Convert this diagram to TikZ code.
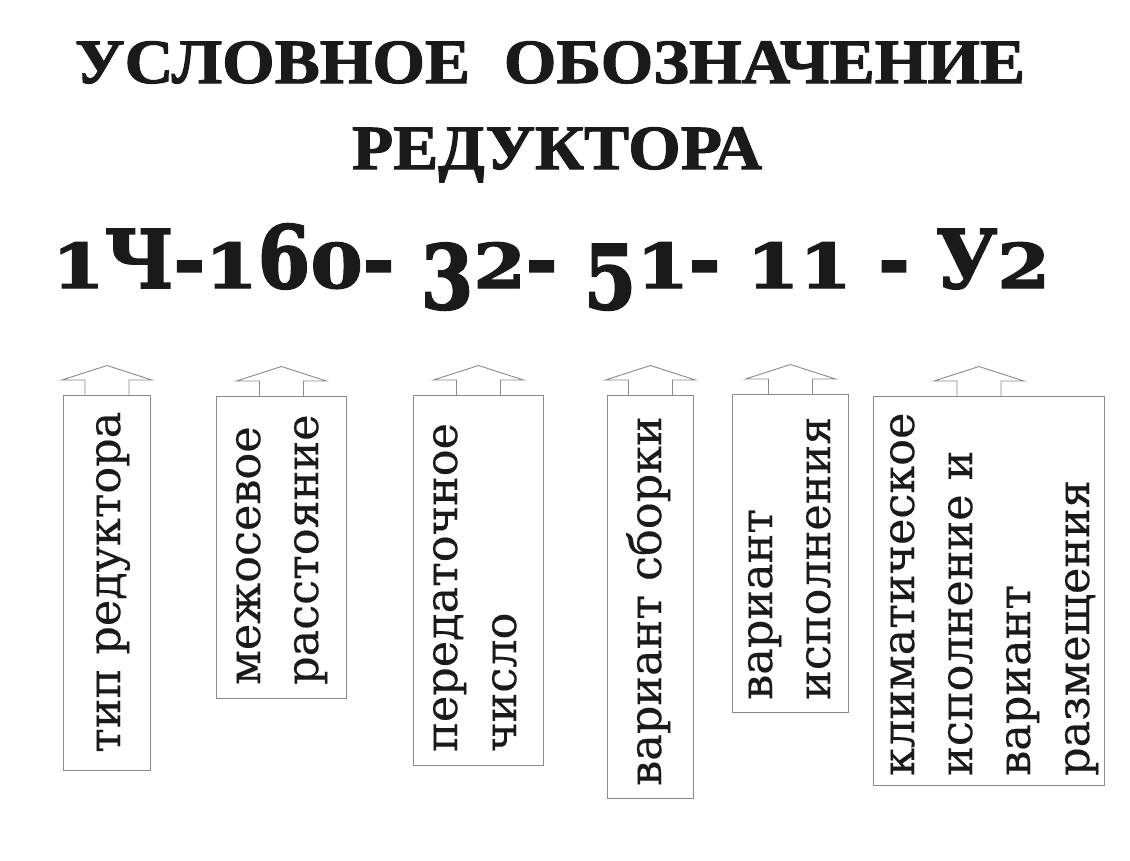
\documentclass[tikz,border=0pt]{standalone}
\usepackage{fontspec}
\usepackage{graphicx}
\usetikzlibrary{calc}
\setmainfont{Liberation Serif}
\newfontfamily\titlefont[BoldFeatures={FakeBold=1.6}]{Liberation Serif}
\newfontfamily\codefont[BoldFeatures={FakeBold=2.2}]{DejaVu Serif}
\newfontfamily\lblfont[FakeStretch=0.99,FakeBold=0.3]{DejaVu Serif}
\definecolor{boxgray}{HTML}{8A8A8A}
\definecolor{ink}{HTML}{1A1A1A}
\newcommand\osS[1]{\scalebox{1}[0.76]{#1}}
\newcommand\osD[1]{\raisebox{-21pt}{\scalebox{1}[1.1]{#1}}}
\newcommand\osT[1]{\scalebox{1}[1.07]{#1}}
\newcommand\blockarrow[2]{\draw[arr] ($(#1.north)+(#2-22,0)$) -- ++(0,-15) -- ++(-23,0) -- ++(45,-14.5) -- ++(45,14.5) -- ++(-23,0) -- ++(0,15);}
\tikzset{
  box/.style={draw=boxgray, line width=0.9pt, inner sep=0pt, anchor=north west},
  arr/.style={draw=boxgray, line width=0.9pt, line join=miter},
  lbl/.style={rotate=90, anchor=base west, inner sep=0pt, text=ink, font=\lblfont\fontsize{45}{58}\selectfont},
  ttl/.style={anchor=base, inner sep=0pt, text=ink},
}
\begin{document}
\begin{tikzpicture}[x=1pt,y=-1pt]
\useasboundingbox (0,0) rectangle (1130,860);
\fill[white] (0,0) rectangle (1130,860);

\node[ttl] (t1) at (550,83) {\resizebox{950pt}{\height}{\titlefont\bfseries\fontsize{63}{63}\selectfont УСЛОВНОЕ\ \ ОБОЗНАЧЕНИЕ}};
\node[ttl] (t2) at (557,169) {\resizebox{410pt}{\height}{\titlefont\bfseries\fontsize{63}{63}\selectfont РЕДУКТОРА}};
\node[ttl] (code) at (551,288) {\resizebox{998pt}{\height}{\codefont\bfseries\fontsize{81}{81}\selectfont \osS{1}Ч-\osS{1}\osT{6}\osS{0}- \osD{3}\osS{2}- \osD{5}\osS{1}- \osS{1}\osS{1} - У\osS{2}}};

\node[box, minimum width=87pt, minimum height=375pt] (b1) at (63,395) {};
\node[box, minimum width=130pt, minimum height=302pt] (b2) at (216,396) {};
\node[box, minimum width=130pt, minimum height=370pt] (b3) at (413,395) {};
\node[box, minimum width=86pt, minimum height=403pt] (b4) at (607,395) {};
\node[box, minimum width=116pt, minimum height=318pt] (b5) at (732,394) {};
\node[box, minimum width=231pt, minimum height=389pt] (b6) at (873,396) {};

\blockarrow{b1}{0}
\blockarrow{b2}{0}
\blockarrow{b3}{0}
\blockarrow{b4}{0}
\blockarrow{b5}{0}
\blockarrow{b6}{-10}

\node[lbl] (l1) at (120,753) {тип редуктора};
\node[lbl] (l2a) at (260,685) {межосевое};
\node[lbl] (l2b) at (318,685) {расстояние};
\node[lbl] (l3a) at (457,752) {передаточное};
\node[lbl] (l3b) at (516,752) {число};
\node[lbl] (l4) at (661,786) {вариант сборки};
\node[lbl] (l5a) at (772,700) {вариант};
\node[lbl] (l5b) at (830,700) {исполнения};
\node[lbl] (l6a) at (914,776) {климатическое};
\node[lbl] (l6b) at (972,776) {исполнение и};
\node[lbl] (l6c) at (1030,776) {вариант};
\node[lbl] (l6d) at (1089,776) {размещения};
\end{tikzpicture}
\end{document}
